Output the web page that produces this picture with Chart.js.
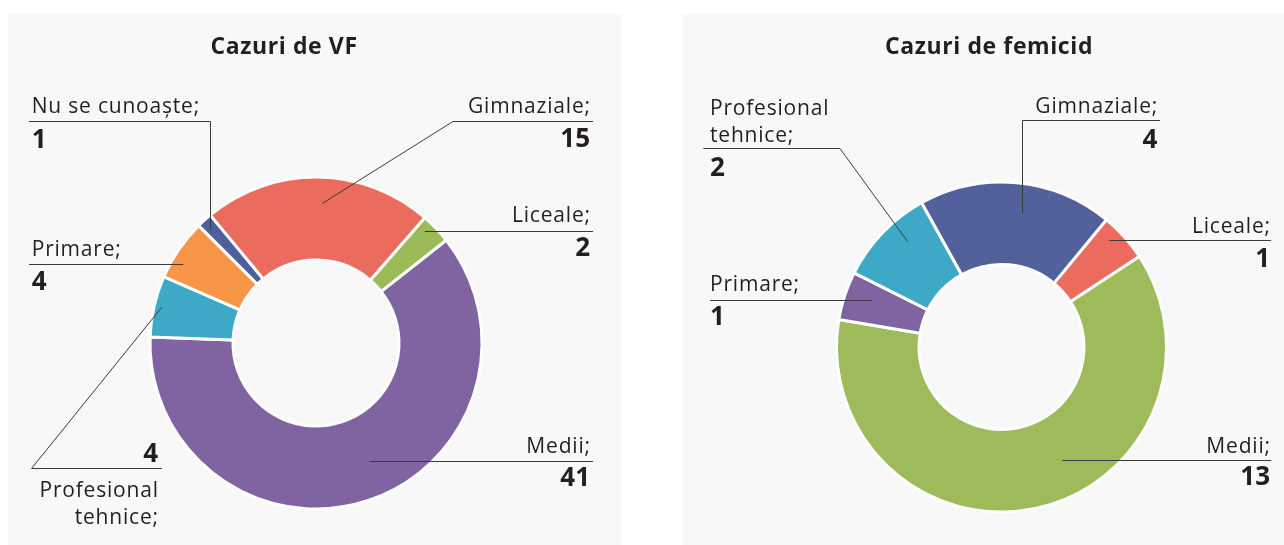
<!DOCTYPE html>
<html><head><meta charset="utf-8">
<script src="https://cdn.jsdelivr.net/npm/chart.js@4/dist/chart.umd.min.js"></script>
<style>
html,body{margin:0;padding:0;background:#fff;width:1284px;height:545px;overflow:hidden}
.panel{position:absolute;background:#F8F8F8;top:14px;height:531px}
#p1{left:8px;width:614px}
#p2{left:682px;width:602px}
canvas{position:absolute;left:0;top:0}
</style></head><body>
<div class="panel" id="p1"></div><div class="panel" id="p2"></div>
<canvas id="c1" width="1284" height="545"></canvas>
<canvas id="c2" width="1284" height="545"></canvas>
<script>
// ---- data ----
const vfTitle = 'Cazuri de VF';
const vfCategories = ['Gimnaziale', 'Liceale', 'Medii', 'Profesional tehnice', 'Primare', 'Nu se cunoaște'];
const vfValues = [15, 2, 41, 4, 4, 1];

const femTitle = 'Cazuri de femicid';
const femCategories = ['Gimnaziale', 'Liceale', 'Medii', 'Primare', 'Profesional tehnice'];
const femValues = [4, 1, 13, 1, 2];

// ---- styles ----
const vfColors = ['#EB6B5E', '#9BBB59', '#8064A2', '#3DA9C7', '#F79646', '#4F5F9C'];
const femColors = ['#52609B', '#EB6B5E', '#9DBB5A', '#8064A2', '#3DA9C7'];
const TEXT = '#231F20';
const LINE = '#3A3A3A';
const FONT = '"Open Sans", sans-serif';

// label callout layout (page pixel positions of the text blocks)
const vfCallouts = [
  {align:'right', tx:590, uy:121.5, x0:453, x1:593, kind:'d', t:0.525, f:0.686, elbow:'x0', lb:113.3, vb:146.7},
  {align:'right', tx:590, uy:231.5, x0:null, x1:593, kind:'h', f:0.877, lb:221.7, vb:255.7},
  {align:'right', tx:590, uy:461.5, x0:null, x1:593, kind:'h', f:0.567, lb:453, vb:486},
  {align:'right', tx:158, uy:468.5, x0:31.5, x1:162, kind:'d', t:0.51, f:0.908, elbow:'x0', lb:496.7, vb:461.7, wrap:true},
  {align:'left', tx:31.7, uy:264.5, x0:29, x1:null, kind:'h', f:0.859, lb:255.7, vb:290},
  {align:'left', tx:31.7, uy:121.5, x0:29, x1:210.5, kind:'v', f:0.872, elbow:'x1', lb:113.3, vb:148.3}
];
const femCallouts = [
  {align:'right', tx:1157.3, uy:120.5, x0:1022.5, x1:1160, kind:'v', f:0.641, elbow:'x0', lb:113.3, vb:147.7},
  {align:'right', tx:1270, uy:240.5, x0:null, x1:1271, kind:'h', f:0.835, lb:233.3, vb:266.7},
  {align:'right', tx:1270, uy:460.5, x0:null, x1:1271, kind:'h', f:0.559, lb:453.3, vb:485},
  {align:'left', tx:710, uy:300.5, x0:710, x1:null, kind:'h', f:0.672, lb:291, vb:325},
  {align:'left', tx:710, uy:148.5, x0:703.3, x1:840, kind:'d', t:0.63, f:0.713, elbow:'x1', lb:115, vb:175.7, wrap:true}
];

function spaced(ctx, px) {
  if ('letterSpacing' in ctx) ctx.letterSpacing = px + 'px';
}

const calloutPlugin = {
  id: 'callouts',
  afterDraw(chart, args, opts) {
    const ctx = chart.ctx;
    const meta = chart.getDatasetMeta(0);
    const labels = chart.data.labels;
    const values = chart.data.datasets[0].data;
    ctx.save();
    ctx.fillStyle = TEXT;
    ctx.textBaseline = 'alphabetic';
    ctx.font = 'bold 23px ' + FONT;
    spaced(ctx, 0.6);
    ctx.textAlign = 'center';
    ctx.fillText(opts.title, opts.titleX, opts.titleY);
    opts.items.forEach((it, i) => {
      const arc = meta.data[i];
      const p = arc.getProps(['x', 'y', 'startAngle', 'endAngle', 'innerRadius', 'outerRadius'], true);
      const r = p.innerRadius + it.f * (p.outerRadius - p.innerRadius);
      let ax, ay;
      if (it.kind === 'h') {
        ay = it.uy;
        const dx = Math.sqrt(Math.max(r * r - (ay - p.y) ** 2, 0));
        ax = it.x0 === null ? p.x + dx : p.x - dx;
      } else if (it.kind === 'v') {
        ax = it[it.elbow];
        const dy = Math.sqrt(Math.max(r * r - (ax - p.x) ** 2, 0));
        ay = p.y - dy;
      } else {
        const a = p.startAngle + it.t * (p.endAngle - p.startAngle);
        ax = p.x + r * Math.cos(a);
        ay = p.y + r * Math.sin(a);
      }
      const x0 = it.x0 === null ? ax : it.x0;
      const x1 = it.x1 === null ? ax : it.x1;
      ctx.strokeStyle = LINE;
      ctx.lineWidth = 1;
      ctx.beginPath();
      ctx.moveTo(x0, it.uy);
      ctx.lineTo(x1, it.uy);
      if (it.kind !== 'h') {
        ctx.moveTo(it[it.elbow], it.uy);
        ctx.lineTo(ax, ay);
      }
      ctx.stroke();
      // text
      const shift = it.align === 'right' ? 0.8 : 0;
      ctx.textAlign = it.align;
      ctx.font = '21px ' + FONT;
      spaced(ctx, 0.8);
      const name = labels[i] + ';';
      const lines = it.wrap ? name.split(' ') : [name];
      lines.forEach((ln, k) => ctx.fillText(ln, it.tx + shift, it.lb + k * 27));
      ctx.font = 'bold 26px ' + FONT;
      spaced(ctx, 0);
      ctx.fillText(String(values[i]), it.tx, it.vb);
    });
    ctx.restore();
  }
};

function makeChart(id, cats, vals, colors, rotation, pad, cutout, title, titleX, items) {
  return new Chart(document.getElementById(id), {
    type: 'doughnut',
    data: {
      labels: cats,
      datasets: [{data: vals, backgroundColor: colors, borderColor: '#FFFFFF', borderWidth: 3}]
    },
    options: {
      responsive: false,
      animation: false,
      devicePixelRatio: 1,
      rotation: rotation,
      cutout: cutout,
      layout: {padding: pad},
      events: [],
      plugins: {
        legend: {display: false},
        tooltip: {enabled: false},
        title: {display: false},
        callouts: {title: title, titleX: titleX, titleY: 54, items: items}
      }
    },
    plugins: [calloutPlugin]
  });
}

makeChart('c1', vfCategories, vfValues, vfColors, -39.6,
  {left: 148.5, right: 800.5, top: 175.5, bottom: 34.5}, '50%', vfTitle, 284, vfCallouts);
makeChart('c2', femCategories, femValues, femColors, -29,
  {left: 835, right: 116, top: 180.5, bottom: 31.5}, '50%', femTitle, 989, femCallouts);
</script>
</body></html>
